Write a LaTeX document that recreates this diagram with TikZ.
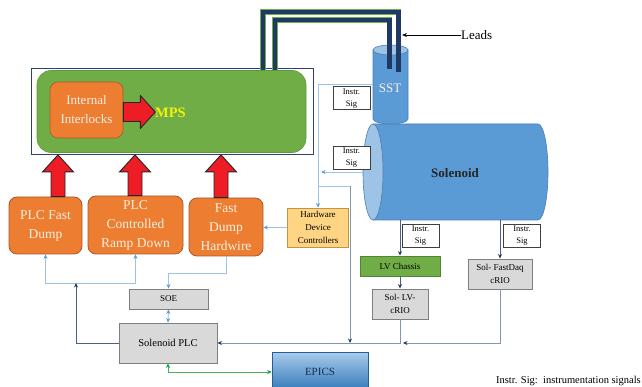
\documentclass[tikz,border=0pt]{standalone}
\usepackage{fontspec}
\setmainfont{Liberation Serif}
\usetikzlibrary{arrows.meta,calc}
\definecolor{mpsgreen}{HTML}{70AD47}
\definecolor{mpsgreenD}{HTML}{5E9A3A}
\definecolor{framec}{HTML}{2F3F7A}
\definecolor{orgF}{HTML}{ED7D31}
\definecolor{orgD}{HTML}{A9592A}
\definecolor{cream}{HTML}{FBEFE3}
\definecolor{lbline}{HTML}{9DC3E6}
\definecolor{lbtip}{HTML}{5B9BD5}
\definecolor{slatec}{HTML}{8497B0}
\definecolor{navyc}{HTML}{1F3864}
\definecolor{cylblue}{HTML}{5B9BD5}
\definecolor{cyllight}{HTML}{9DC3E6}
\definecolor{cylborder}{HTML}{4A7EB0}
\definecolor{grayF}{HTML}{D9D9D9}
\definecolor{grayD}{HTML}{7F7F7F}
\definecolor{hdcF}{HTML}{FFD584}
\definecolor{hdcD}{HTML}{C4953E}
\definecolor{lvD}{HTML}{548235}
\definecolor{epT}{HTML}{A9CCEC}
\definecolor{epB}{HTML}{2E75B6}
\definecolor{grline}{HTML}{4CB050}
\definecolor{grtip}{HTML}{00A651}
\definecolor{redF}{HTML}{EE1C25}
\definecolor{wireG}{HTML}{6FAE4A}
\definecolor{mpsY}{HTML}{F2F20C}
\begin{document}
\begin{tikzpicture}[x=1pt,y=-1pt,
  orgbox/.style={fill=orgF, draw=orgD, line width=0.8pt, rounded corners=8pt, text=cream,
     align=center, inner sep=0pt, font=\fontsize{13.5}{19}\selectfont},
  graybox/.style={fill=grayF, draw=grayD, line width=0.9pt, align=center, inner sep=0pt,
     font=\fontsize{9}{12.5}\selectfont},
  isbox/.style={fill=white, draw=black!75, line width=1pt, minimum width=37pt, minimum height=23pt,
     align=center, inner sep=0pt, font=\fontsize{8.5}{12}\selectfont},
  lb/.style={draw=lbline, line width=0.9pt},
  lbtipa/.style={-{Stealth[length=4.5pt,width=4pt,color=lbtip]}},
  lbtipb/.style={{Stealth[length=4.5pt,width=4pt,color=lbtip]}-{Stealth[length=4.5pt,width=4pt,color=lbtip]}},
  sl/.style={draw=slatec, line width=0.9pt, -{Stealth[length=4.5pt,width=4pt,color=navyc]}},
  nv/.style={draw=navyc!80, line width=0.8pt, -{Stealth[length=4.5pt,width=4pt,color=navyc]}},
  redarr/.style={fill=redF, draw=black!85, line width=0.9pt, line join=miter},
  wireA/.style={draw=wireG, line width=5.4pt},
  wireB/.style={draw=navyc, line width=4.2pt},
]
\useasboundingbox (0,0) rectangle (642,387);
\fill[white] (0,0) rectangle (642,387);

% ---------- MPS block ----------
\node[draw=framec, line width=0.8pt, minimum width=282pt, minimum height=86pt, inner sep=0pt] (frame) at (172,111.5) {};
\node[fill=mpsgreen, draw=mpsgreenD, line width=0.6pt, rounded corners=14pt, minimum width=269pt, minimum height=82pt, inner sep=0pt] (mps) at (171.5,111.5) {};
\node[fill=orgF, draw=orgD, line width=0.6pt, rounded corners=8pt, minimum width=73pt, minimum height=56pt,
      text=cream, align=center, inner sep=0pt, font=\fontsize{13}{19}\selectfont] (intl) at (86.5,110) {Internal\\Interlocks};
\node[text=mpsY, font=\fontsize{14.5}{16}\selectfont\bfseries, inner sep=0pt, anchor=west] (mpst) at (155,113) {MPS};
\draw[redarr] let \p1=($(intl.east)+(0,2)$) in
  (\x1,\y1+9.5pt) -- (\x1+17pt,\y1+9.5pt) -- (\x1+17pt,\y1+16.5pt) -- (\x1+32pt,\y1)
  -- (\x1+17pt,\y1-16.5pt) -- (\x1+17pt,\y1-9.5pt) -- (\x1,\y1-9.5pt) -- cycle;

% ---------- orange boxes ----------
\node[orgbox, minimum width=73pt, minimum height=57pt] (pfd) at (45.5,225.5) {PLC Fast\\Dump};
\node[orgbox, minimum width=95pt, minimum height=58pt] (pcr) at (135.5,225) {PLC\\Controlled\\Ramp Down};
\node[orgbox, minimum width=74pt, minimum height=58pt] (fdh) at (226,227) {Fast\\Dump\\Hardwire};

% red up arrows
\newcommand\RedUp[2]{%
  \draw[redarr] let \p1=(#2.north), \p2=(frame.south) in
    (#1pt-7pt,\y1) -- (#1pt-7pt,\y2-17pt) -- (#1pt-15.5pt,\y2-17pt) -- (#1pt,\y2)
    -- (#1pt+15.5pt,\y2-17pt) -- (#1pt+7pt,\y2-17pt) -- (#1pt+7pt,\y1) -- cycle;}
\RedUp{58}{pfd}
\RedUp{135}{pcr}
\RedUp{221}{fdh}

% ---------- other boxes ----------
\node[fill=hdcF, draw=hdcD, line width=0.9pt, minimum width=61pt, minimum height=39pt, align=center,
      inner sep=0pt, font=\fontsize{9}{13}\selectfont] (hdc) at (318,227.5) {Hardware\\Device\\Controllers};
\node[graybox, minimum width=79pt, minimum height=20pt] (soe) at (168.5,299) {SOE};
\node[graybox, minimum width=98pt, minimum height=40pt, font=\fontsize{10.5}{12}\selectfont] (plc) at (168,343) {Solenoid PLC};
\node[top color=epT, bottom color=epB, draw=epB!80!black, line width=0.6pt, minimum width=96pt, minimum height=40pt,
      inner sep=0pt, text=navyc!80!black, font=\fontsize{11}{13}\selectfont] (epics) at (320,372) {EPICS};
\node[fill=mpsgreen, draw=lvD, line width=0.9pt, minimum width=80pt, minimum height=20pt, inner sep=0pt,
      font=\fontsize{9}{11}\selectfont] (lv) at (400,266) {LV Chassis};
\node[graybox, minimum width=56pt, minimum height=30pt] (lvc) at (400,304) {Sol- LV-\\cRIO};
\node[graybox, minimum width=64pt, minimum height=30pt] (fdq) at (500,274) {Sol- FastDaq\\cRIO};

% ---------- solenoid & SST ----------
\filldraw[fill=cylblue, draw=cylborder, line width=0.6pt] (373,124) -- (538,124)
  arc[start angle=90, end angle=-90, x radius=10pt, y radius=48pt] -- (373,220) -- cycle;
\filldraw[fill=cyllight, draw=cylborder, line width=0.6pt] (373,172) ellipse[x radius=10pt, y radius=48pt];
\node[minimum width=185pt, minimum height=96pt, inner sep=0pt] (sol) at (455.5,172) {};
\node[font=\fontsize{13}{15}\selectfont\bfseries, text=black!85, inner sep=0pt] (solt) at (455,173) {Solenoid};

\filldraw[fill=cylblue, draw=cylborder, line width=0.6pt] (373,50) -- (373,119)
  arc[start angle=180, end angle=360, x radius=17.5pt, y radius=5pt] -- (408,50) -- cycle;
\filldraw[fill=cyllight, draw=cylborder, line width=0.6pt] (390.5,50) ellipse[x radius=17.5pt, y radius=5pt];
\node[minimum width=35pt, minimum height=79pt, inner sep=0pt] (sst) at (390.5,84.5) {};
\node[text=cream, font=\fontsize{13}{15}\selectfont, inner sep=0pt] (sstt) at (390,88) {SST};

% ---------- leads (wires) ----------
\draw[wireA] (263,70) -- (263,12) -- (398.5,12) -- (398.5,72);
\draw[wireB] (263,70) -- (263,12) -- (398.5,12) -- (398.5,72);
\draw[wireA] (275,70) -- (275,20) -- (389.5,20) -- (389.5,69);
\draw[wireB] (275,70) -- (275,20) -- (389.5,20) -- (389.5,69);
\node[font=\fontsize{13}{15}\selectfont, inner sep=0pt, anchor=west] (leads) at (461,35) {Leads};
\coordinate (leadtip) at (402,35);
\draw[line width=0.7pt, -{Stealth[length=5pt,width=4pt]}] (leads.west) -- (leadtip);

% ---------- instrumentation signal boxes ----------
\node[isbox] (is1) at (351.5,98.5) {Instr.\\Sig};
\node[isbox] (is2) at (351.5,158) {Instr.\\Sig};
\node[isbox] (is3) at (420.5,236) {Instr.\\Sig};
\node[isbox] (is4) at (522,236) {Instr.\\Sig};

% ---------- connectors ----------
\draw[lb, lbtipb] (pfd.south) -- ++(0,29) -| (pcr.south);
\coordinate (fdjoin) at (76,283);
\draw[nv] (plc.west) -| (fdjoin);
\draw[lb, lbtipa] (fdh.south) -- ++(0,17) -| (soe.north);
\draw[lb, lbtipb] (soe.south) -- (plc.north);
\draw[draw=grline, line width=0.9pt, {Stealth[length=4.5pt,width=4pt,color=grtip]}-{Stealth[length=4.5pt,width=4pt,color=grtip]}]
  (plc.south) |- (epics.west);
\draw[lb, lbtipa] (hdc.west) -- (hdc.west -| fdh.east);
\draw[lb, lbtipa] (sst.west) -| (hdc.north);
\draw[lb, lbtipa] (sol.west) -- ([xshift=3pt]sol.west -| hdc.north);
\coordinate (br0) at (318,186);
\coordinate (br1) at (350,186);
\draw[lb] (br0) -- (br1);
\draw[sl] (br1) -- (br1 |- plc.east);
\draw[nv] (sol.south -| lv.north) -- (lv.north);
\draw[nv] (sol.south -| fdq.north) -- (fdq.north);
\draw[nv] (lv.south) -- (lvc.north);
\draw[sl] (lvc.south) |- (plc.east);
\draw[sl] (fdq.south) |- ([xshift=3pt]lvc.south |- plc.east);

% ---------- legend ----------
\node[font=\fontsize{10.5}{12}\selectfont, inner sep=0pt, anchor=east] (legend) at (641,381) {Instr. Sig:\enspace instrumentation signals};
\end{tikzpicture}
\end{document}
